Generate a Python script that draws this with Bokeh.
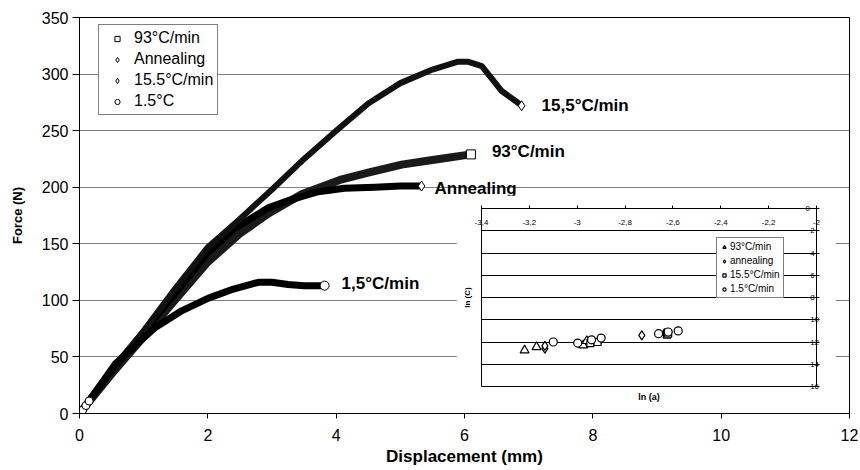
from bokeh.plotting import figure
from bokeh.models import (Range1d, FixedTicker, Legend, LegendItem, LinearAxis,
                          ColumnDataSource)
from bokeh.embed import file_html
from bokeh.resources import INLINE
from bokeh.core.properties import value

FONT = "Liberation Sans"

# ---------------- main chart data (Force vs displacement) ----------------
disp_93 = [0, 0.5, 1.0, 1.5, 2.0, 2.5, 2.95, 3.47, 4.09, 4.5, 5.02, 5.5, 6.1]
force_93 = [0, 35, 68, 101, 134, 159, 177, 194, 207, 213, 220, 224, 229]

disp_ann = [0, 0.5, 1.0, 1.5, 2.0, 2.43, 2.95, 3.3, 3.72, 4.13, 4.6, 5.0, 5.33]
force_ann = [0, 38, 72, 107, 142, 164, 182, 189, 196, 199, 200, 201, 201]

disp_155 = [0, 0.5, 1.0, 1.5, 2.0, 2.5, 3.0, 3.5, 4.0, 4.5, 5.0, 5.5, 5.9, 6.05,
            6.27, 6.58, 6.8, 6.89]
force_155 = [0, 38, 73, 111, 147, 172, 198, 225, 250, 274, 292, 304, 311, 311,
             307, 285, 276, 272]

disp_15 = [0, 0.05, 0.1, 0.15, 0.56, 1.18, 1.6, 2.01, 2.4, 2.79, 3.0, 3.25, 3.5, 3.82]
force_15 = [0, 3, 7, 11, 44, 76, 91, 102, 110, 116, 116, 114, 113, 113]

curve_labels = ["93\u00b0C/min", "Annealing", "15,5\u00b0C/min", "1,5\u00b0C/min"]
legend_labels = ["93\u00b0C/min", "Annealing", "15.5\u00b0C/min", "1.5\u00b0C"]

x_ticks = [0, 2, 4, 6, 8, 10, 12]
y_ticks = [0, 50, 100, 150, 200, 250, 300, 350]

# ---------------- inset data (ln C vs ln a) ----------------
ln_a_93 = [-3.22, -3.17, -2.975, -2.96]
ln_c_93 = [-12.75, -12.45, -12.3, -11.9]
ln_a_ann = [-3.135, -3.135, -2.905, -2.73, -2.635]
ln_c_ann = [-12.6, -12.35, -11.85, -11.4, -11.2]
ln_a_155 = [-2.945, -2.915, -2.625, -2.62]
ln_c_155 = [-12.1, -12.0, -11.35, -11.25]
ln_a_15 = [-3.1, -2.998, -2.94, -2.9, -2.66, -2.62, -2.578]
ln_c_15 = [-12.0, -12.1, -11.8, -11.65, -11.25, -11.1, -11.0]

inset_legend = ["93\u00b0C/min", "annealing", "15.5\u00b0C/min", "1.5\u00b0C/min"]
inset_xticks = [-3.4, -3.2, -3.0, -2.8, -2.6, -2.4, -2.2, -2.0]
inset_xtick_labels = ["-3,4", "-3,2", "-3", "-2,8", "-2,6", "-2,4", "-2,2", "-2"]
inset_yticks = [0, -2, -4, -6, -8, -10, -12, -14, -16]

# ---------------- main figure ----------------
p = figure(frame_width=770, frame_height=396, x_range=Range1d(0, 12),
           y_range=Range1d(0, 350),
           output_backend="svg", toolbar_location=None,
           min_border_left=70, min_border_right=10, min_border_top=9,
           min_border_bottom=56)
p.margin = (8, 0, 0, 6)
p.background_fill_color = "white"
p.border_fill_color = "white"
p.outline_line_color = "black"
p.outline_line_width = 1

p.xgrid.visible = False
p.ygrid.grid_line_color = "#7f7f7f"
p.ygrid.grid_line_width = 1

p.xaxis.ticker = FixedTicker(ticks=x_ticks)
p.yaxis.ticker = FixedTicker(ticks=y_ticks)
for ax in (p.xaxis, p.yaxis):
    ax.axis_line_color = "black"
    ax.major_tick_line_color = "black"
    ax.minor_tick_line_color = None
    ax.major_tick_in = 0
    ax.major_label_text_font = FONT
    ax.major_label_text_font_size = "16px"
    ax.major_label_text_color = "black"
    ax.axis_label_text_font = FONT
    ax.axis_label_text_font_style = "bold"
    ax.axis_label_text_color = "black"
p.xaxis.major_tick_out = 5
p.yaxis.major_tick_out = 7
p.xaxis.major_label_standoff = 10
p.yaxis.major_label_standoff = 4
p.xaxis.axis_label = "Displacement (mm)"
p.yaxis.axis_label = "Force (N)"
p.xaxis.axis_label_text_font_size = "17px"
p.yaxis.axis_label_text_font_size = "13px"
p.xaxis.axis_label_standoff = 3
p.yaxis.axis_label_standoff = 14

# curves (dense marker traces drawn as thick lines)
p.line(disp_93, force_93, line_color="#1a1a1a", line_width=8, line_join="round")
p.line(disp_ann, force_ann, line_color="black", line_width=7, line_join="round")
p.line(disp_155, force_155, line_color="#111111", line_width=6, line_join="round")
p.line(disp_15, force_15, line_color="black", line_width=7, line_join="round")

# start markers near origin
p.scatter(disp_15[:4], force_15[:4], marker="circle", size=8,
          fill_color="white", line_color="black", line_width=1)

# end markers
r93 = p.scatter([disp_93[-1]], [force_93[-1]], marker="square", size=9,
                fill_color="white", line_color="black", line_width=1)
rann = p.scatter([disp_ann[-1]], [force_ann[-1]], marker="diamond", size=10,
                 fill_color="white", line_color="black", line_width=1)
r155 = p.scatter([disp_155[-1]], [force_155[-1]], marker="diamond", size=10,
                 fill_color="white", line_color="black", line_width=1)
r15 = p.scatter([disp_15[-1]], [force_15[-1]], marker="circle", size=9,
                fill_color="white", line_color="black", line_width=1)

lab_src = ColumnDataSource(dict(
    x=[disp_93[-1], disp_ann[-1], disp_155[-1], disp_15[-1]],
    y=[force_93[-1], force_ann[-1], force_155[-1], force_15[-1]],
    text=curve_labels,
    dx=[21, 13, 20, 17],
    dy=[-3, 2, 0, -2],
))
p.text(x="x", y="y", text="text", x_offset="dx", y_offset="dy", source=lab_src,
       text_font=value(FONT), text_font_style="bold", text_font_size="17px",
       text_baseline="middle", text_align="left", text_color="black")

legend = Legend(items=[
    LegendItem(label=legend_labels[0], renderers=[r93]),
    LegendItem(label=legend_labels[1], renderers=[rann]),
    LegendItem(label=legend_labels[2], renderers=[r155]),
    LegendItem(label=legend_labels[3], renderers=[r15]),
], location=(19, 298))
legend.margin = 0
legend.padding = 4
legend.spacing = 3
legend.glyph_height = 13
legend.glyph_width = 28
legend.label_height = 13
legend.label_standoff = 3
legend.label_text_font = FONT
legend.label_text_font_size = "16px"
legend.label_text_color = "black"
legend.border_line_color = "black"
legend.border_line_width = 1
legend.background_fill_color = "white"
legend.background_fill_alpha = 1
p.add_layout(legend, "center")

# ---------------- inset figure ----------------
q = figure(frame_width=335, frame_height=178, x_range=Range1d(-3.4, -2.0),
           y_range=Range1d(-16, 0),
           output_backend="svg", toolbar_location=None,
           x_axis_location="above", y_axis_location="right",
           min_border_left=25, min_border_right=20, min_border_top=13,
           min_border_bottom=24)
q.background_fill_color = "white"
q.border_fill_color = "white"
q.outline_line_color = "black"
q.outline_line_width = 1

xa = q.xaxis[0]
xa.ticker = FixedTicker(ticks=inset_xticks)
xa.major_label_overrides = {t: l for t, l in zip(inset_xticks, inset_xtick_labels)}
ya = q.yaxis[0]
ya.ticker = FixedTicker(ticks=inset_yticks)
for ax in (xa, ya):
    ax.axis_line_color = "black"
    ax.major_tick_line_color = "black"
    ax.minor_tick_line_color = None
    ax.major_tick_in = 0
    ax.major_tick_out = 3
    ax.major_label_text_font = FONT
    ax.major_label_text_font_size = "8px"
    ax.major_label_text_color = "black"
xa.major_label_standoff = -19
ya.major_label_standoff = -14
ya.major_label_text_align = "right"

q.xgrid.visible = False
q.ygrid.grid_line_color = "black"
q.ygrid.grid_line_width = 1

left_lab = LinearAxis(axis_label="ln (C)", ticker=FixedTicker(ticks=[]),
                      major_tick_line_color=None, minor_tick_line_color=None,
                      axis_line_color=None, axis_label_standoff=10,
                      major_label_standoff=0, major_tick_out=0,
                      axis_label_text_font=FONT, axis_label_text_font_size="8px",
                      axis_label_text_font_style="bold", axis_label_text_color="black")
q.add_layout(left_lab, "left")
bot_lab = LinearAxis(axis_label="ln (a)", ticker=FixedTicker(ticks=[]),
                     major_tick_line_color=None, minor_tick_line_color=None,
                     axis_line_color=None, axis_label_standoff=5,
                     major_label_standoff=0, major_tick_out=0,
                     axis_label_text_font=FONT, axis_label_text_font_size="9px",
                     axis_label_text_font_style="bold", axis_label_text_color="black")
q.add_layout(bot_lab, "below")

s93 = q.scatter(ln_a_93, ln_c_93, marker="triangle", size=9, fill_color="white",
                line_color="black", line_width=1.2)
sann = q.scatter(ln_a_ann, ln_c_ann, marker="diamond", size=9, fill_color="white",
                 line_color="black", line_width=1.2)
s155 = q.scatter(ln_a_155, ln_c_155, marker="square", size=7, fill_color="white",
                 line_color="black", line_width=1.2)
s15 = q.scatter(ln_a_15, ln_c_15, marker="circle", size=8, fill_color="white",
                line_color="black", line_width=1.2)

ilegend = Legend(items=[
    LegendItem(label=inset_legend[0], renderers=[s93]),
    LegendItem(label=inset_legend[1], renderers=[sann]),
    LegendItem(label=inset_legend[2], renderers=[s155]),
    LegendItem(label=inset_legend[3], renderers=[s15]),
], location=(235, 88))
ilegend.margin = 0
ilegend.padding = 3
ilegend.spacing = 3
ilegend.glyph_height = 10
ilegend.glyph_width = 8
ilegend.label_height = 10
ilegend.label_standoff = 2
ilegend.label_text_font = FONT
ilegend.label_text_font_size = "10px"
ilegend.label_text_color = "black"
ilegend.border_line_color = "black"
ilegend.border_line_width = 1
ilegend.background_fill_color = "white"
ilegend.background_fill_alpha = 1
q.add_layout(ilegend, "center")

# overlay the inset on the main chart (two roots, inset pulled up over the main one)
q.margin = (-274, 0, 0, 456)

open("out.html", "w").write(file_html([p, q], INLINE))
